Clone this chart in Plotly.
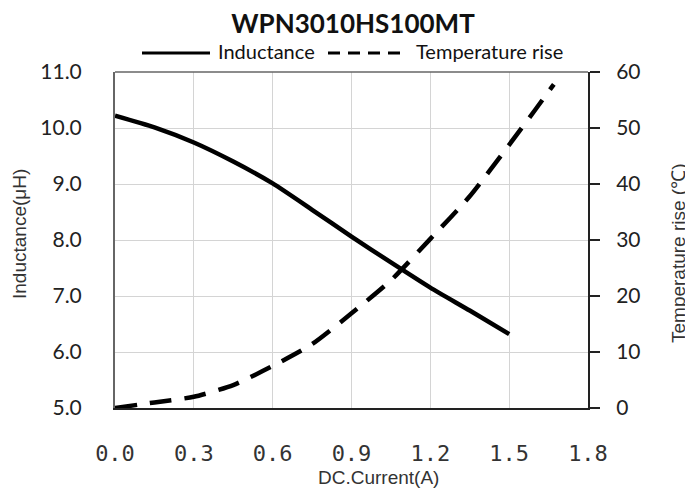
import plotly.graph_objects as go

# ---- data ----
current_L = [0.0, 0.15, 0.3, 0.45, 0.6, 0.75, 0.9, 1.05, 1.2, 1.35, 1.5]
inductance = [10.22, 10.01, 9.74, 9.40, 9.01, 8.54, 8.06, 7.60, 7.15, 6.74, 6.32]

current_T = [0.0, 0.15, 0.3, 0.45, 0.6, 0.75, 0.9, 1.05, 1.2, 1.35, 1.5, 1.6, 1.67]
temp_rise = [0.0, 1.0, 2.0, 4.1, 7.5, 11.4, 16.9, 22.8, 30.2, 37.8, 47.0, 53.3, 57.8]

title_text = "WPN3010HS100MT"
series_names = ["Inductance", "Temperature rise"]
x_title = "DC.Current(A)"
y1_title = "Inductance(μH)"
y2_title = "Temperature rise (℃)"

# page body margin offset (8px) is compensated by a slightly smaller figure
OFF = 8
W, H = 693 - OFF, 491 - OFF
PL, PR, PT, PB = 115, 588, 72, 408          # plot area in window pixels
ML, MR, MT, MB = PL - OFF, W - (PR - OFF), PT - OFF, H - (PB - OFF)
PW, PH = PR - PL, PB - PT

def px(sx):
    return (sx - PL) / PW

def py(sy):
    return (PB - sy) / PH

fig = go.Figure()
fig.add_trace(go.Scatter(x=current_L, y=inductance, name=series_names[0], mode="lines",
                         line=dict(color="black", width=4.5, shape="spline", smoothing=0.6),
                         yaxis="y", showlegend=False))
fig.add_trace(go.Scatter(x=current_T, y=temp_rise, name=series_names[1], mode="lines",
                         line=dict(color="black", width=4.5, dash="22px,13px", shape="spline", smoothing=0.6),
                         yaxis="y2", showlegend=False))

grid = "#d4d4d4"
fig.update_layout(
    width=W, height=H,
    margin=dict(l=ML, r=MR, t=MT, b=MB, autoexpand=False),
    paper_bgcolor="white", plot_bgcolor="white",
    title=dict(text="<b>" + title_text + "</b>", x=(353 - OFF) / W, xanchor="center",
               y=1 - (24 - OFF) / H, yanchor="middle",
               font=dict(family="Lato, Open Sans, sans-serif", size=26, color="#111")),
    xaxis=dict(range=[0, 1.8], tickmode="linear", tick0=0, dtick=0.3, tickformat=".1f",
               showgrid=True, gridcolor=grid, gridwidth=1, zeroline=False,
               showline=True, linecolor="#222", linewidth=2, mirror=False,
               ticks="", ticklabelstandoff=25,
               tickfont=dict(family="DejaVu Sans Mono, monospace", size=22, color="#333")),
    yaxis=dict(range=[5, 11], tickmode="linear", tick0=5, dtick=1, tickformat=".1f",
               showgrid=True, gridcolor=grid, gridwidth=1, zeroline=False,
               showline=True, linecolor="#666", linewidth=2, ticks="", ticklabelstandoff=27,
               tickfont=dict(family="Lato, Open Sans, sans-serif", size=21, color="#222")),
    yaxis2=dict(range=[0, 60], tickmode="linear", tick0=0, dtick=10, overlaying="y", side="right",
                showgrid=False, zeroline=False, showline=True, linecolor="#222", linewidth=2,
                ticks="outside", ticklen=10, tickcolor="#222", tickwidth=1.5, ticklabelstandoff=12,
                tickfont=dict(family="Lato, Open Sans, sans-serif", size=21, color="#222")),
    showlegend=False,
)

# top border of the plot area
fig.add_shape(type="line", xref="paper", yref="paper", x0=0, x1=1, y0=1, y1=1,
              line=dict(color="#666", width=1.5))

# legend (drawn manually to match long line samples)
fig.add_shape(type="line", xref="paper", yref="paper", x0=px(142), x1=px(210),
              y0=py(53), y1=py(53), line=dict(color="black", width=3))
fig.add_shape(type="line", xref="paper", yref="paper", x0=px(328), x1=px(404),
              y0=py(53), y1=py(53), line=dict(color="black", width=3, dash="12px,8px"))

ann_font = dict(family="Lato, Open Sans, sans-serif", size=20, color="#111")
fig.add_annotation(text=series_names[0], xref="paper", yref="paper", x=px(216), y=py(51),
                   xanchor="left", yanchor="middle", showarrow=False, font=ann_font)
fig.add_annotation(text=series_names[1], xref="paper", yref="paper", x=px(414), y=py(51),
                   xanchor="left", yanchor="middle", showarrow=False, font=ann_font)

title_font = dict(family="Liberation Sans, Arial, sans-serif", size=19, color="#333")
fig.add_annotation(text=x_title, xref="paper", yref="paper", x=px(378), y=py(477),
                   xanchor="center", yanchor="middle", showarrow=False, font=title_font)
fig.add_annotation(text=y1_title, xref="paper", yref="paper", x=px(20), y=py(234),
                   xanchor="center", yanchor="middle", showarrow=False, textangle=-90, font=title_font)
fig.add_annotation(text=y2_title, xref="paper", yref="paper", x=px(678), y=py(253),
                   xanchor="center", yanchor="middle", showarrow=False, textangle=-90, font=title_font)

fig.write_html("out.html")
